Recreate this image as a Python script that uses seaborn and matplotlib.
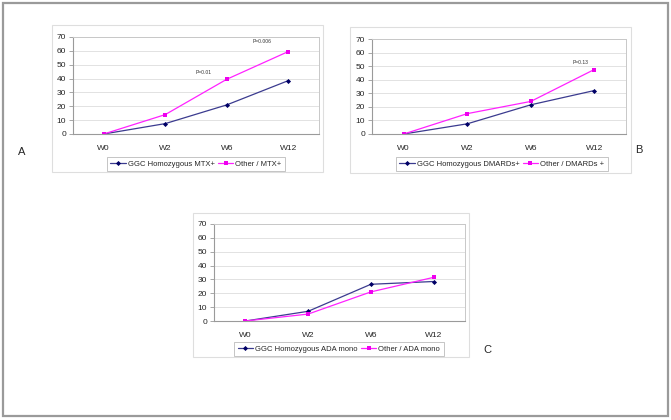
import numpy as np
import pandas as pd
import matplotlib
matplotlib.use("Agg")
import matplotlib.pyplot as plt
from matplotlib.patches import Rectangle
import seaborn as sns

# data
weeks = ["W0", "W2", "W6", "W12"]

ggc_mtx = [0, 7.5, 21, 38.5]
other_mtx = [0, 14, 39.5, 59.5]

ggc_dmard = [0, 7.5, 21.5, 32]
other_dmard = [0, 15, 24, 47.5]

ggc_ada = [0, 7, 26.5, 28.5]
other_ada = [0, 5, 21, 31.5]

labels_a = ["GGC Homozygous MTX+", "Other / MTX+"]
labels_b = ["GGC Homozygous DMARDs+", "Other / DMARDs +"]
labels_c = ["GGC Homozygous ADA mono", "Other / ADA mono"]

sns.set_style("white")
plt.rcParams["font.family"] = ["Liberation Sans", "DejaVu Sans"]

W, H = 671, 420
fig = plt.figure(figsize=(W / 100, H / 100), dpi=100)


def fbox(l, t, r, b):
    # pixel box -> figure fraction [x0, y0, w, h]
    return [l / W, 1 - b / H, (r - l) / W, (b - t) / H]


def frame(l, t, r, b, color, lw):
    x0, y0, w, h = fbox(l, t, r, b)
    fig.patches.append(Rectangle((x0, y0), w, h, transform=fig.transFigure,
                                 fill=False, edgecolor=color, linewidth=lw))


# outer frame
frame(3, 3, 668, 416, "#9a9a9a", 1.6)
# chart boxes
frame(52, 25, 323, 172, "#dedede", 0.8)
frame(350, 27, 631, 173, "#dedede", 0.8)
frame(193, 213, 469, 357, "#dedede", 0.8)

palette = ["#3b3b8f", "#ff22ff"]
marker_cols = ["#000066", "#ee00ee"]


def panel(rect, ggc, other, labels, legend_center, notes):
    ax = fig.add_axes(fbox(*rect))
    df = pd.DataFrame({
        "week": weeks * 2,
        "value": ggc + other,
        "group": [labels[0]] * len(weeks) + [labels[1]] * len(weeks),
    })
    sns.lineplot(data=df, x="week", y="value", hue="group", style="group",
                 markers=["D", "s"], dashes=False, palette=palette,
                 markersize=2.6, linewidth=0.9, markeredgewidth=0,
                 sort=False, ax=ax)
    for line, mc in zip(ax.lines, marker_cols):
        line.set_markerfacecolor(mc)
    ax.set_xlim(-0.5, 3.5)
    ax.set_ylim(0, 70)
    ax.set_yticks(np.arange(0, 71, 10))
    ax.set_xticks(range(len(weeks)))
    ax.set_xticklabels(weeks)
    ax.set_xticks([-0.5, 0.5, 1.5, 2.5, 3.5], minor=True)
    ax.tick_params(axis="x", which="major", length=0, labelsize=6, pad=8)
    ax.tick_params(axis="x", which="minor", length=3, width=0.6,
                   color="#999999", direction="out")
    ax.tick_params(axis="y", length=3, width=0.6, color="#999999",
                   direction="out", labelsize=6, pad=2, left=True)
    ax.grid(axis="y", color="#e2e2e2", linewidth=0.7)
    ax.set_axisbelow(True)
    for side in ["top", "right"]:
        ax.spines[side].set_color("#c8c8c8")
        ax.spines[side].set_linewidth(0.7)
    for side in ["left", "bottom"]:
        ax.spines[side].set_color("#9a9a9a")
        ax.spines[side].set_linewidth(0.8)
    ax.set_xlabel("")
    ax.set_ylabel("")
    for x, y, s in notes:
        ax.text(x, y, s, fontsize=3.6, ha="center", va="center", color="#333333")
    handles, labs = ax.get_legend_handles_labels()
    for h, mc in zip(handles, marker_cols):
        h.set_markerfacecolor(mc)
    ax.get_legend().remove()
    cx, cy = legend_center
    leg = fig.legend(handles, labs, loc="center", ncol=2,
                     bbox_to_anchor=(cx / W, 1 - cy / H), fontsize=5.5,
                     frameon=True, fancybox=False, edgecolor="#aaaaaa",
                     handlelength=2.0, handletextpad=0.3, columnspacing=0.4,
                     borderpad=0.45)
    leg.get_frame().set_linewidth(0.6)
    return ax


panel((73, 37, 319, 134), ggc_mtx, other_mtx, labels_a, (196, 164),
      [(1.62, 44.5, "P=0.01"), (2.58, 66.5, "P=0.006")])
panel((372, 39, 626, 134), ggc_dmard, other_dmard, labels_b, (502, 164),
      [(2.78, 52.5, "P=0.13")])
panel((214, 224, 465, 321), ggc_ada, other_ada, labels_c, (339, 349), [])

fig.text(22 / W, 1 - 152 / H, "A", fontsize=8, ha="center", va="center")
fig.text(639 / W, 1 - 150 / H, "B", fontsize=8, ha="center", va="center")
fig.text(487 / W, 1 - 350 / H, "C", fontsize=8, ha="center", va="center")

fig.savefig("out.png", dpi=100)
